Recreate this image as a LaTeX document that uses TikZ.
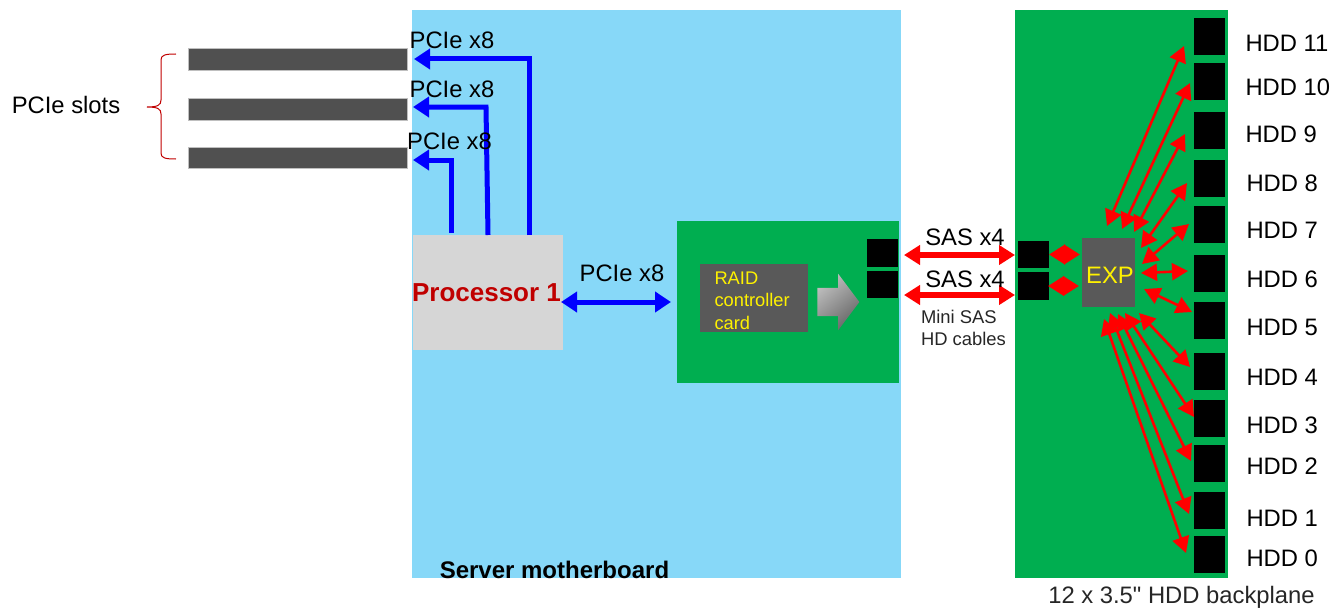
\documentclass[tikz,border=0pt]{standalone}
\usepackage{xcolor}
\usepackage{fontspec}
\setmainfont{Liberation Sans}
\newfontfamily\plainquote{Liberation Sans}
\usepackage{tikz}
\usetikzlibrary{arrows.meta, positioning, shapes.arrows}
\definecolor{boardblue}{HTML}{87D8F8}
\definecolor{pcbgreen}{HTML}{00AE50}
\definecolor{chipgray}{HTML}{595959}
\definecolor{slotgray}{HTML}{505050}
\definecolor{cpugray}{HTML}{D6D6D6}
\definecolor{cpured}{HTML}{C00000}

\begin{document}
\begin{tikzpicture}[
        x=1pt, y=-1pt,
        every node/.style={inner sep=0pt, outer sep=0pt, font=\fontsize{23.8}{26}\selectfont},
        slotbar/.style={rectangle, fill=slotgray, draw=gray!50, line width=0.5pt, minimum width=219pt, minimum height=22pt},
        port/.style={rectangle, fill=black, minimum width=31pt, minimum height=28pt},
        drive/.style={rectangle, fill=black, minimum width=31pt, minimum height=37pt},
        drivelabel/.style={anchor=west},
        pciearrow/.style={{Triangle[length=16pt, width=20pt]}-{Triangle[length=16pt, width=20pt]}, blue, line width=5pt},
        slotarrow/.style={-{Triangle[length=16pt, width=20pt]}, blue, line width=5pt},
        sasarrow/.style={{Triangle[length=16pt, width=19pt]}-{Triangle[length=16pt, width=19pt]}, red, line width=6pt},
        drivearrow/.style={{Triangle[length=16pt, width=17pt]}-{Triangle[length=16pt, width=17pt]}, red, line width=2.6pt}
    ]
        \useasboundingbox (0,0) rectangle (1338,610);

        % Boards
        \node[rectangle, fill=boardblue, minimum width=489pt, minimum height=568pt] (board) at (656.5,294) {};
        \node[rectangle, fill=pcbgreen, minimum width=213pt, minimum height=568pt] (backplane) at (1121.5,294) {};
        \node[rectangle, fill=pcbgreen, minimum width=222pt, minimum height=162pt] (raidcard) at (788,302) {};

        % PCIe slots
        \node[slotbar] (slota) at (297.5,59) {};
        \node[slotbar] (slotb) at (297.5,109) {};
        \node[slotbar, minimum height=21pt] (slotc) at (297.5,157.5) {};
        \node (slotlabel) at (66,105) {PCIe slots};
        \draw[cpured, line width=1pt] (176,54) .. controls (165,54) and (161,55) .. (161,60) -- (161,100)
            .. controls (161,105) and (158,107) .. (147,107) .. controls (158,107) and (161,109) .. (161,114)
            -- (161,153) .. controls (161,158) and (165,159) .. (176,159);

        % Processor
        \node[rectangle, fill=cpugray, minimum width=150pt, minimum height=115pt] (cpu) at (488,292.5) {};
        \coordinate (cpua) at (529,235);
        \coordinate (cpub) at (488,235);
        \coordinate (cpuc) at (451,233);
        \coordinate (bendb) at (486,107);
        \draw[slotarrow, shorten >=7pt] (cpua) |- (slota.east);
        \draw[slotarrow, shorten >=6pt] (cpub) -- (bendb) -- (slotb.east |- bendb);
        \draw[slotarrow, shorten >=6pt] (cpuc) |- ([yshift=-2.5pt]slotc.east);
        \node[font=\fontsize{26}{28}\selectfont\bfseries, text=cpured] (cpulabel) at (486.5,293) {Processor 1};
        \node (pciea) at (452,40) {PCIe x8};
        \node (pcieb) at (452,89) {PCIe x8};
        \node (pciec) at (449.5,141) {PCIe x8};

        % RAID card
        \node[rectangle, fill=chipgray, minimum width=108pt, minimum height=68pt] (raid) at (754,298) {};
        \node[anchor=west, text=yellow, align=left, font=\fontsize{18.3}{22.5}\selectfont] (raidlabel) at (714.5,300.5) {RAID\\controller\\card};
        \node[single arrow, single arrow tip angle=106.26, single arrow head extend=14pt, inner xsep=0pt, inner ysep=14pt,
            minimum height=42pt, text height=0pt, top color=black!25, bottom color=black!60, shading angle=40] (flow) at (833,302) {};
        \node[port, minimum height=28pt] (raidporta) at (882.5,253) {};
        \node[port, minimum height=27pt] (raidportb) at (882.5,284.5) {};
        \coordinate (pcieleft) at (561,302);
        \coordinate (pcieright) at (671,302);
        \draw[pciearrow] (pcieleft) -- (pcieright);
        \node (pcied) at (622,273) {PCIe x8};

        % SAS cables
        \coordinate (sasal) at (904,255);
        \coordinate (sasar) at (1015,255);
        \coordinate (sasbl) at (904,295);
        \coordinate (sasbr) at (1015,295);
        \draw[sasarrow] (sasal) -- (sasar);
        \draw[sasarrow] (sasbl) -- (sasbr);
        \node (sasa) at (965,237) {SAS x4};
        \node (sasb) at (965,279) {SAS x4};
        \node[anchor=west, align=left, text=black!85, font=\fontsize{18.4}{22.3}\selectfont] (cables) at (921,328) {Mini SAS\\HD cables};

        % Expander
        \node[rectangle, fill=chipgray, minimum width=53pt, minimum height=69pt] (expander) at (1108.5,272.5) {};
        \node[text=yellow] (explabel) at (1110,275) {EXP};
        \node[port, minimum height=27pt] (backporta) at (1033.5,254.5) {};
        \node[port] (backportb) at (1033.5,286) {};
        \draw[sasarrow, shorten >=2pt] (backporta.east) -- (backporta.east -| expander.west);
        \draw[sasarrow, shorten <=-1pt, shorten >=3pt] (backportb.east) -- (backportb.east -| expander.west);

        % Drives
        \node[drive] (hdd11) at (1209.5,36.5) {};
        \node[drive, below=8pt of hdd11] (hdd10) {};
        \node[drive, below=12pt of hdd10] (hdd9) {};
        \node[drive, below=11pt of hdd9] (hdd8) {};
        \node[drive, below=9pt of hdd8] (hdd7) {};
        \node[drive, below=12pt of hdd7] (hdd6) {};
        \node[drive, below=10pt of hdd6] (hdd5) {};
        \node[drive, below=14pt of hdd5] (hdd4) {};
        \node[drive, below=10pt of hdd4] (hdd3) {};
        \node[drive, below=8pt of hdd3] (hdd2) {};
        \node[drive, below=10pt of hdd2] (hdd1) {};
        \node[drive, below=7pt of hdd1] (hdd0) {};

        \node[drivelabel] (label11) at (1245.5,43) {HDD 11};
        \node[drivelabel] (label10) at (1245.5,87) {HDD 10};
        \node[drivelabel] (label9) at (1245.5,134) {HDD 9};
        \node[drivelabel] (label8) at (1246.5,183.5) {HDD 8};
        \node[drivelabel] (label7) at (1246.5,230.5) {HDD 7};
        \node[drivelabel] (label6) at (1246.5,279) {HDD 6};
        \node[drivelabel] (label5) at (1246.5,327) {HDD 5};
        \node[drivelabel] (label4) at (1246.5,377) {HDD 4};
        \node[drivelabel] (label3) at (1246.5,425) {HDD 3};
        \node[drivelabel] (label2) at (1246.5,466) {HDD 2};
        \node[drivelabel] (label1) at (1246.5,518) {HDD 1};
        \node[drivelabel] (label0) at (1246.5,558) {HDD 0};

        % Arrows
        \coordinate (exp11) at (1107,226); \coordinate (link11) at (1184,46);
        \coordinate (exp10) at (1122,229); \coordinate (link10) at (1190,83);
        \coordinate (exp9) at (1134,232); \coordinate (link9) at (1185,134);
        \coordinate (exp8) at (1141,248); \coordinate (link8) at (1187,183);
        \coordinate (exp7) at (1142,264); \coordinate (link7) at (1189,224);
        \coordinate (exp6) at (1141,273); \coordinate (link6) at (1188,271);
        \coordinate (exp5) at (1144,289); \coordinate (link5) at (1192,312);
        \coordinate (exp4) at (1139,313); \coordinate (link4) at (1190,367);
        \coordinate (exp3) at (1125,313); \coordinate (link3) at (1194,417);
        \coordinate (exp2) at (1118,314); \coordinate (link2) at (1191,461);
        \coordinate (exp1) at (1110,313); \coordinate (link1) at (1189,514);
        \coordinate (exp0) at (1104,319); \coordinate (link0) at (1186,553);
        \draw[drivearrow] (exp11) -- (link11);
        \draw[drivearrow] (exp10) -- (link10);
        \draw[drivearrow] (exp9) -- (link9);
        \draw[drivearrow] (exp8) -- (link8);
        \draw[drivearrow] (exp7) -- (link7);
        \draw[drivearrow] (exp6) -- (link6);
        \draw[drivearrow] (exp5) -- (link5);
        \draw[drivearrow] (exp4) -- (link4);
        \draw[drivearrow] (exp3) -- (link3);
        \draw[drivearrow] (exp2) -- (link2);
        \draw[drivearrow] (exp1) -- (link1);
        \draw[drivearrow] (exp0) -- (link0);

        % Captions
        \node[font=\fontsize{24}{26}\selectfont\bfseries] (boardlabel) at (554.5,570) {Server motherboard};
        \node[text=black!85, font=\fontsize{23.8}{26}\selectfont\plainquote] (backplanelabel) at (1181.5,597) {12 x 3.5" HDD backplane};
    \end{tikzpicture}
\end{document}
